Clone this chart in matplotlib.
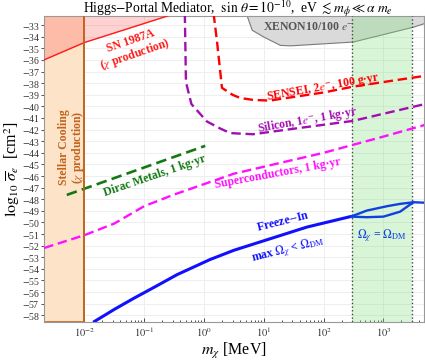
import matplotlib
matplotlib.use('Agg')
import matplotlib.pyplot as plt
from matplotlib.ticker import FixedLocator, LogLocator, NullFormatter

plt.rcParams['font.family'] = ['Liberation Serif', 'DejaVu Serif']
plt.rcParams['mathtext.fontset'] = 'stix'

# dark matter mass [MeV] and log10 of the reference cross section [cm^2]
sn_m = [0.002, 0.01, 0.25]
sn_s = [-36.05, -34.5, -32.2]

xenon_m = [5.2, 6.3, 9.8, 18.6, 27.5, 309, 3160, 4900]
xenon_s = [-32.2, -33.4, -33.98, -34.7, -34.74, -34.41, -33.12, -32.8]

sensei_m = [1.45, 1.66, 2.0, 3.0, 4.0, 6.6, 12.6, 24.5, 100, 309, 1000, 4900]
sensei_s = [-32.0, -34.5, -38.4, -39.0, -39.27, -39.44, -39.5, -39.27, -38.8, -38.3, -37.9, -37.37]

silicon_m = [0.479, 0.50, 0.617, 1.12, 1.86, 2.75, 6.6, 24.5, 309, 4900]
silicon_s = [-32.0, -37.9, -39.8, -41.3, -41.9, -42.3, -42.4, -42.0, -41.25, -39.8]

sc_m = [0.00214, 0.01, 0.0316, 0.1, 0.316, 1, 3.16, 10, 31.6, 100, 316, 1000, 4900]
sc_s = [-52.2, -51.1, -50.1, -48.6, -47.6, -46.7, -45.8, -45.2, -44.6, -44.0, -43.3, -42.6, -41.6]

dirac_m = [0.0051, 1.05]
dirac_s = [-47.63, -43.4]

fi_m = [0.0141, 0.0316, 0.066, 0.158, 0.355, 1.26, 3.16, 11.2, 52.5, 295]
fi_s = [-58.6, -57.5, -56.56, -55.5, -54.5, -53.2, -52.4, -51.5, -50.4, -49.47]
fi_up_m = [295, 525, 1150, 1900, 3160, 4900]
fi_up_s = [-49.47, -48.98, -48.6, -48.4, -48.26, -48.3]
fi_lo_m = [295, 525, 1000, 1900, 3160]
fi_lo_s = [-49.5, -49.55, -49.5, -49.07, -48.26]

band_m = [300, 3000]
stellar_m = 0.01

xmin, xmax = 10**-2.67, 10**3.68
ymin, ymax = -58.55, -32.2

fig = plt.figure(figsize=(4.25, 3.61), dpi=100)
ax = fig.add_axes([0.104, 0.109, 0.894, 0.847])

# shaded regions
ax.axvspan(xmin, stellar_m, ymin=0, ymax=1, facecolor='#fde3c8', edgecolor='#c0651e', lw=1.2, zorder=1)
ax.fill_between(sn_m, sn_s, ymax + 1, color='#ff3535', alpha=0.22, lw=0, zorder=2)
ax.plot(sn_m, sn_s, color='#ff1a1a', lw=1, zorder=3)

ax.fill_between(xenon_m, xenon_s, ymax + 1, facecolor='#dadada', edgecolor='#7a7a7a', lw=0.8, zorder=2)
ax.axvspan(band_m[0], band_m[1], color='#7ee07e', alpha=0.3, lw=0, zorder=2)
for m in band_m:
    ax.axvline(m, color='#444444', ls=':', lw=1, zorder=3)

# projections
ax.plot(sensei_m, sensei_s, color='#ff0000', ls=(0, (4, 2)), lw=1.7, zorder=4)
ax.plot(silicon_m, silicon_s, color='#a010b0', ls=(0, (4, 2)), lw=1.7, zorder=4)
ax.plot(sc_m, sc_s, color='#ff10ff', ls=(0, (4, 2)), lw=1.7, zorder=4)
ax.plot(dirac_m, dirac_s, color='#137a13', ls=(0, (4, 2)), lw=1.9, zorder=4)

# freeze-in
ax.plot(fi_m, fi_s, color='#1010ff', lw=2.2, zorder=5, solid_capstyle='butt')
ax.plot(fi_up_m, fi_up_s, color='#1040e0', lw=1.7, zorder=5)
ax.plot(fi_lo_m, fi_lo_s, color='#1040e0', lw=1.7, zorder=5)

ax.axvline(stellar_m, color='#c0651e', lw=1.2, zorder=6)

# labels
kw = dict(ha='center', va='center', fontweight='bold', fontsize=8.5, zorder=7)
ax.text(0.065, -35.0, 'SN 1987A\n($\\chi$ production)', color='#ff1a1a', rotation=19,
        linespacing=1.0, **kw)
ax.text(0.0063, -43.5, 'Stellar Cooling\n($\\chi$ production)', color='#c0651e', rotation=90,
        linespacing=1.0, **kw)
ax.text(55, -33.15, 'XENON10/100 $e^{-}$', color='#555555', **kw)
ax.text(98, -38.4, 'SENSEI, 2$e^{-}$, 100 g\u00b7yr', color='#ff0000', rotation=10, **kw)
ax.text(55, -41.17, 'Silicon, 1$e^{-}$, 1 kg\u00b7yr', color='#a010b0', rotation=10, **kw)
ax.text(17.4, -45.8, 'Superconductors, 1 kg\u00b7yr', color='#ff10ff', rotation=10.5, **kw)
ax.text(0.15, -46.0, 'Dirac Metals, 1 kg\u00b7yr', color='#137a13', rotation=19, **kw)
ax.text(21, -49.96, 'Freeze$-$In', color='#1010ff', rotation=14, **kw)
ax.text(25, -52.46, 'max $\\Omega_\\chi$ < $\\Omega_{\\rm DM}$', color='#1010ff', rotation=14, **kw)
ax.text(950, -51.2, '$\\Omega_\\chi$ = $\\Omega_{\\rm DM}$', color='#1040e0', **kw)

ax.set_xscale('log')
ax.set_xlim(xmin, xmax)
ax.set_ylim(ymin, ymax)

ax.yaxis.set_major_locator(FixedLocator(range(-58, -32)))
ax.set_yticklabels(['$-$%d' % (-v) for v in range(-58, -32)])
ax.xaxis.set_major_locator(FixedLocator([1e-2, 1e-1, 1, 10, 100, 1000]))
ax.set_xticklabels(['$10^{%d}$' % p for p in range(-2, 4)])
ax.xaxis.set_minor_locator(LogLocator(base=10, subs=range(2, 10), numticks=20))
ax.xaxis.set_minor_formatter(NullFormatter())
ax.tick_params(axis='y', direction='out', length=2, width=0.6, labelsize=7, pad=1, colors='#333333')
ax.tick_params(axis='x', which='major', direction='in', length=3, width=0.6, labelsize=7.5, pad=3, colors='#333333')
ax.tick_params(axis='x', which='minor', direction='in', length=1.5, width=0.5)
ax.grid(True, which='major', color='#ebebeb', lw=0.6, zorder=0)
ax.set_axisbelow(True)
for sp in ax.spines.values():
    sp.set_color('#999999')
    sp.set_linewidth(0.8)

ax.set_xlabel('$m_\\chi$ [MeV]', fontsize=11.5, labelpad=1)
ax.set_ylabel('$\\log_{10}\\,\\overline{\\sigma}_e$  [cm$^2$]', fontsize=11.5)
ax.yaxis.set_label_coords(-0.058, 0.5)
fig.text(0.56, 0.974,
         'Higgs$-$Portal Mediator,  $\\sin\\,\\theta = 10^{-10}$,  eV $\\lesssim m_\\phi \\ll \\alpha\\ m_e$',
         fontsize=9.8, ha='center', va='center')

fig.savefig('out.png', dpi=100)
